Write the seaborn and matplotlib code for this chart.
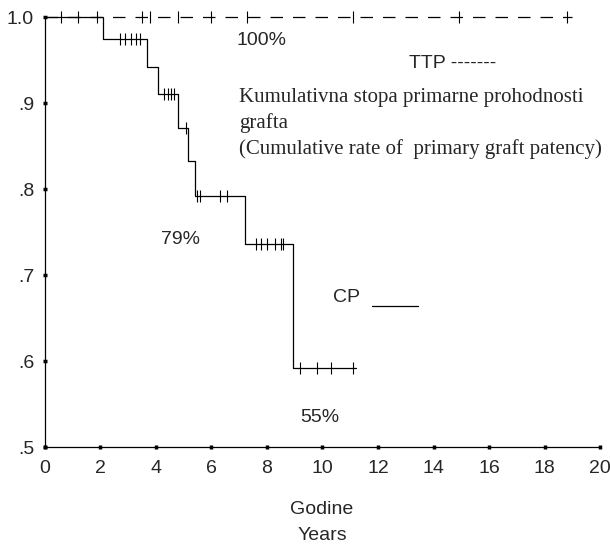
import numpy as np
import pandas as pd
import matplotlib
matplotlib.use("Agg")
import matplotlib.pyplot as plt
import seaborn as sns

# CP step curve (event times in years, cumulative patency)
cp_times = [0, 2.1, 3.7, 4.1, 4.8, 5.15, 5.4, 7.2, 8.95, 11.2]
cp_surv = [1.0, 0.974, 0.942, 0.910, 0.871, 0.833, 0.792, 0.736, 0.592, 0.592]

# CP censored observations
cp_cens_t = [0.6, 1.2, 1.9, 2.7, 2.9, 3.1, 3.3, 3.45, 4.3, 4.45, 4.55, 4.65,
             5.1, 5.5, 5.6, 6.3, 6.55, 7.6, 7.8, 8.0, 8.3, 8.5, 8.6,
             9.2, 9.8, 10.3, 11.1]
cp_cens_s = [1.0, 1.0, 1.0, 0.974, 0.974, 0.974, 0.974, 0.974, 0.910, 0.910, 0.910, 0.910,
             0.871, 0.792, 0.792, 0.792, 0.792, 0.736, 0.736, 0.736, 0.736, 0.736, 0.736,
             0.592, 0.592, 0.592, 0.592]

# TTP curve (no events)
ttp_times = [0, 19.0]
ttp_surv = [1.0, 1.0]
ttp_cens_t = [3.5, 3.8, 4.8, 6.0, 7.3, 11.1, 14.9, 18.8]

x_ticks = [0, 2, 4, 6, 8, 10, 12, 14, 16, 18, 20]
y_ticks = [0.5, 0.6, 0.7, 0.8, 0.9, 1.0]
y_labels = [".5", ".6", ".7", ".8", ".9", "1.0"]

sns.set_style("white")
plt.rcParams['font.family'] = ['Liberation Sans', 'DejaVu Sans']

fig = plt.figure(figsize=(6.1, 5.5), dpi=100)
ax = fig.add_axes([0.073, 0.187, 0.911, 0.782])

cp = pd.DataFrame({'t': cp_times, 's': cp_surv})
ttp = pd.DataFrame({'t': ttp_times, 's': ttp_surv})

sns.lineplot(data=ttp, x='t', y='s', ax=ax, color='black', linewidth=0.9,
             dashes=False, linestyle=(0, (10, 8)), clip_on=False)
sns.lineplot(data=cp, x='t', y='s', ax=ax, color='black', linewidth=0.9,
             drawstyle='steps-post', clip_on=False)
ax.plot(cp_cens_t, cp_cens_s, linestyle='none', marker='|', markersize=8,
        markeredgewidth=0.8, color='black', clip_on=False)
ax.plot(ttp_cens_t, [1.0] * len(ttp_cens_t), linestyle='none', marker='|',
        markersize=8, markeredgewidth=0.8, color='black', clip_on=False)

ax.set_xlim(0, 20)
ax.set_ylim(0.5, 1.0)
ax.set_xticks(x_ticks)
ax.set_yticks(y_ticks)
ax.set_yticklabels(y_labels)
ax.tick_params(axis='both', bottom=True, left=True, direction='inout', length=3,
               width=2.5, labelsize=14, color='black')
ax.tick_params(axis='x', pad=8)
ax.tick_params(axis='y', pad=6)
for side in ['top', 'right']:
    ax.spines[side].set_visible(False)
for side in ['left', 'bottom']:
    ax.spines[side].set_color('black')
    ax.spines[side].set_linewidth(0.9)

ax.set_xlabel("")
ax.set_ylabel("")
fig.text(322 / 610, 1 - 509 / 550, "Godine", fontsize=14, ha='center', va='center')
fig.text(322 / 610, 1 - 535 / 550, "Years", fontsize=14, ha='center', va='center')

ax.text(6.9, 0.973, "100%", fontsize=14, va='center')
ax.text(13.1, 0.946, "TTP -------", fontsize=14, va='center')
ax.text(7.0, 0.906, "Kumulativna stopa primarne prohodnosti", fontsize=15,
        family=['Liberation Serif'], va='center')
ax.text(7.0, 0.877, "grafta", fontsize=15, family=['Liberation Serif'], va='center')
ax.text(7.0, 0.847, "(Cumulative rate of  primary graft patency)", fontsize=15,
        family=['Liberation Serif'], va='center')
ax.text(4.2, 0.741, "79%", fontsize=14, va='center')
ax.text(10.4, 0.674, "CP", fontsize=14, va='center')
ax.plot([11.8, 13.45], [0.664, 0.664], color='black', linewidth=0.9)
ax.text(9.2, 0.535, "55%", fontsize=14, va='center')

fig.savefig("out.png", dpi=100)
